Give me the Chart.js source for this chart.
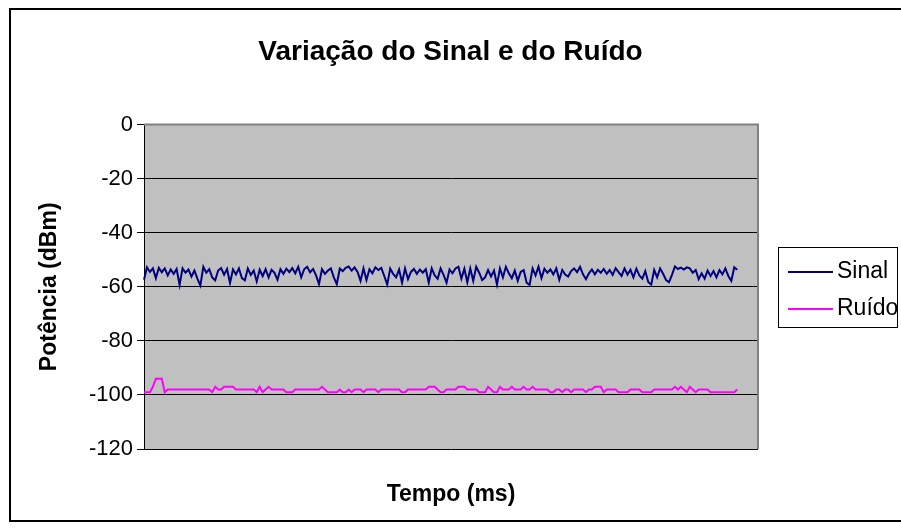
<!DOCTYPE html>
<html>
<head>
<meta charset="utf-8">
<script src="https://cdn.jsdelivr.net/npm/chart.js@4"></script>
<style>
  html, body { margin: 0; padding: 0; background: #fff; }
  #wrap { width: 901px; height: 529px; }
</style>
</head>
<body>
<div id="wrap"><canvas id="myChart" width="901" height="529"></canvas></div>
<script>
// valores (dBm)
const sinal = [
  -57.4, -52.8, -54.5, -53.2, -56.8, -53.0, -54.6, -53.2, -55.8, -53.6,
  -55.2, -53.4, -59.3, -53.2, -54.8, -53.6, -56.2, -54.0, -57.0, -59.5,
  -52.6, -54.8, -53.5, -56.5, -57.6, -54.0, -53.1, -55.5, -53.4, -58.6,
  -53.6, -55.4, -53.2, -56.8, -57.6, -53.2, -55.6, -54.0, -58.0, -53.7,
  -56.0, -53.5, -56.5, -53.7, -54.8, -57.4, -53.5, -55.2, -53.3, -54.6,
  -53.1, -55.0, -52.6, -56.5, -53.5, -52.6, -54.6, -53.4, -55.8, -59.0,
  -53.5, -55.2, -54.0, -53.2, -56.5, -59.0, -53.3, -54.2, -53.0, -52.5,
  -54.0, -52.8, -54.5, -57.8, -53.2, -57.5, -53.5, -55.0, -52.8, -53.8,
  -53.0, -56.0, -59.2, -53.3, -55.2, -56.5, -53.6, -58.5, -53.2, -57.2,
  -54.5, -53.4, -55.2, -53.6, -54.8, -53.5, -58.5, -53.2, -55.8, -57.0,
  -53.2, -55.6, -58.5, -53.6, -55.0, -53.2, -52.6, -57.0, -53.3, -58.3,
  -53.2, -57.8, -52.6, -54.8, -57.5, -56.5, -53.8, -56.2, -54.0, -59.2,
  -53.2, -56.5, -52.6, -55.0, -56.8, -54.0, -57.8, -54.5, -53.8, -58.5,
  -59.3, -53.2, -55.8, -52.6, -56.8, -53.3, -54.8, -53.6, -55.4, -53.2,
  -57.4, -53.8, -55.5, -56.2, -54.2, -53.2, -54.6, -52.6, -55.4, -57.2,
  -55.0, -53.6, -55.4, -53.7, -54.8, -53.4, -55.2, -53.8, -55.6, -53.1,
  -54.6, -56.0, -53.2, -55.5, -53.7, -56.5, -53.3, -55.8, -57.0, -54.2,
  -58.2, -59.2, -53.8, -56.5, -53.2, -55.2, -57.5, -58.3, -55.6, -52.5,
  -53.4, -52.9, -53.6, -52.8, -53.2, -54.8, -53.8, -57.2, -55.0, -57.0,
  -54.0, -56.0, -54.2, -56.5, -53.8, -55.4, -53.2, -56.0, -57.8, -52.8,
  -53.7
];
const ruido = [
  -99, -99, -99, -97, -94, -94, -94, -99, -98, -98,
  -98, -98, -98, -98, -98, -98, -98, -98, -98, -98,
  -98, -98, -98, -99, -97, -98, -98, -97, -97, -97,
  -97, -98, -98, -98, -98, -98, -98, -98, -99, -97,
  -99, -98, -97, -98, -98, -98, -98, -98, -99, -99,
  -99, -98, -98, -98, -98, -98, -98, -98, -98, -98,
  -97, -98, -99, -99, -99, -99, -98, -99, -99, -98,
  -99, -98, -98, -98, -99, -98, -98, -98, -98, -99,
  -98, -98, -98, -98, -98, -98, -98, -99, -99, -98,
  -98, -98, -98, -98, -98, -98, -97, -97, -97, -98,
  -99, -99, -98, -98, -98, -98, -97, -97, -97, -98,
  -98, -98, -98, -99, -99, -99, -97, -98, -99, -99,
  -97, -98, -98, -98, -97, -98, -98, -98, -97, -98,
  -98, -97, -98, -98, -98, -98, -98, -99, -99, -98,
  -98, -99, -98, -98, -99, -98, -98, -98, -98, -99,
  -98, -98, -97, -97, -97, -99, -98, -98, -98, -98,
  -99, -99, -99, -99, -98, -98, -98, -98, -99, -99,
  -99, -99, -98, -98, -98, -98, -98, -98, -98, -97,
  -98, -97, -98, -99, -97, -98, -99, -98, -98, -98,
  -98, -99, -99, -99, -99, -99, -99, -99, -99, -99,
  -98
];
// eixo de tempo (amostras), com algumas categorias vazias no fim
const tempo = Array.from({ length: 208 }, (_, i) => i);
const yTicks = [0, -20, -40, -60, -80, -100, -120];

const FONT = '"Liberation Sans", Arial, sans-serif';

const plotBg = {
    id: 'plotBg',
    beforeDraw(chart) {
        const { ctx, chartArea: a } = chart;
        ctx.save();
        ctx.fillStyle = '#c0c0c0';
        ctx.fillRect(a.left, a.top, a.right - a.left, a.bottom - a.top);
        ctx.restore();
    },
    afterDraw(chart) {
        const { ctx, chartArea: a } = chart;
        ctx.save();
        // moldura externa
        ctx.strokeStyle = '#000';
        ctx.lineWidth = 2;
        ctx.strokeRect(10, 9, 920, 512);
        // bordas cinza do plot (topo e direita)
        ctx.strokeStyle = '#808080';
        ctx.lineWidth = 2;
        ctx.beginPath();
        ctx.moveTo(a.left, a.top);
        ctx.lineTo(a.right, a.top);
        ctx.lineTo(a.right, a.bottom);
        ctx.stroke();
        // legenda com caixa
        const lx = 778, ly = 247, lw = 119, lh = 80;
        ctx.fillStyle = '#fff';
        ctx.fillRect(lx, ly, lw, lh);
        ctx.strokeStyle = '#000';
        ctx.lineWidth = 1;
        ctx.strokeRect(lx + 0.5, ly + 0.5, lw, lh);
        ctx.font = '23px ' + FONT;
        ctx.textBaseline = 'middle';
        chart.data.datasets.forEach((ds, i) => {
            const y = ly + 25 + i * 37;
            ctx.strokeStyle = ds.borderColor;
            ctx.lineWidth = 2;
            ctx.beginPath();
            ctx.moveTo(788, y);
            ctx.lineTo(833, y);
            ctx.stroke();
            ctx.fillStyle = '#000';
            ctx.fillText(ds.label, 837, y);
        });
        ctx.restore();
    }
};

new Chart(document.getElementById('myChart'), {
    type: 'line',
    data: {
        labels: tempo,
        datasets: [
            { label: 'Sinal', data: sinal, borderColor: '#000080', borderWidth: 2, pointRadius: 0, tension: 0 },
            { label: 'Ruído', data: ruido, borderColor: '#ff00ff', borderWidth: 2, pointRadius: 0, tension: 0 }
        ]
    },
    options: {
        responsive: false,
        animation: false,
        layout: { padding: 0 },
        plugins: {
            legend: { display: false },
            tooltip: { enabled: false },
            title: {
                display: true,
                text: 'Variação do Sinal e do Ruído',
                color: '#000',
                font: { family: FONT, size: 28, weight: 'bold' },
                padding: { top: 35, bottom: 56 }
            }
        },
        scales: {
            x: {
                type: 'category',
                offset: false,
                grid: { display: false, drawTicks: false },
                border: { display: false },
                ticks: { display: false },
                title: {
                    display: true,
                    text: 'Tempo (ms)',
                    color: '#000',
                    font: { family: FONT, size: 23, weight: 'bold' },
                    padding: { top: 0, bottom: 21 }
                },
                afterFit(scale) { scale.height = 80; }
            },
            y: {
                min: -120,
                max: 0,
                afterBuildTicks(scale) { scale.ticks = yTicks.map(v => ({ value: v })); },
                grid: { color: '#000', lineWidth: 1, tickLength: 7, tickColor: '#000' },
                border: { color: '#000', width: 1 },
                ticks: {
                    color: '#000',
                    padding: 4,
                    font: { family: FONT, size: 22 }
                },
                title: {
                    display: true,
                    text: 'Potência (dBm)',
                    color: '#000',
                    font: { family: FONT, size: 23, weight: 'bold' },
                    padding: { top: 36, bottom: 0 }
                },
                afterFit(scale) { scale.width = 144; }
            },
            // espaço reservado para a legenda à direita
            espaco: {
                type: 'linear',
                position: 'right',
                display: true,
                grid: { display: false, drawTicks: false },
                border: { display: false },
                ticks: { display: false },
                afterFit(scale) { scale.width = 143; }
            }
        }
    },
    plugins: [plotBg]
});
</script>
</body>
</html>
